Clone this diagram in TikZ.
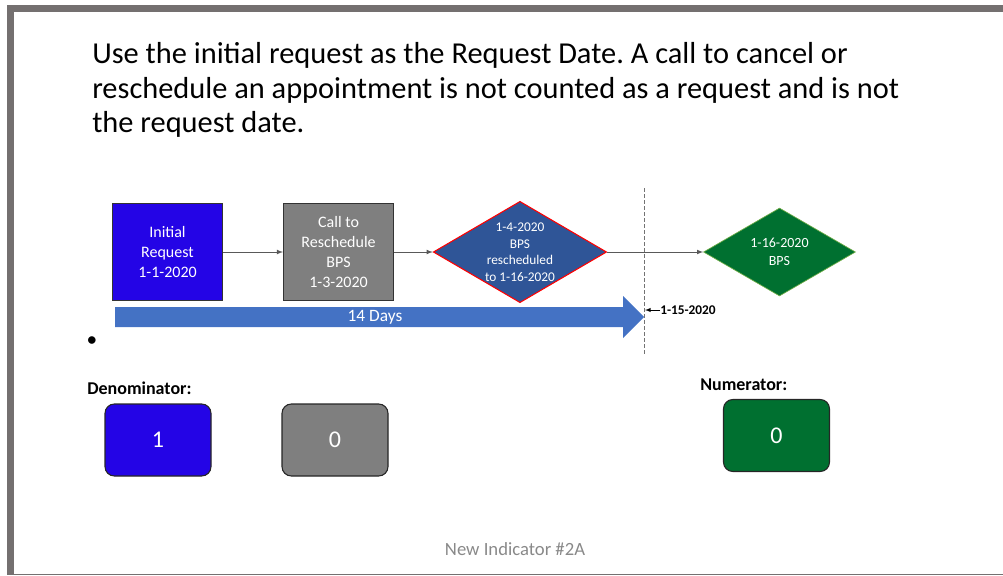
\documentclass[tikz,border=0pt]{standalone}
\usepackage{fontspec}
\setmainfont{Carlito}
\usetikzlibrary{positioning, shapes.geometric}
\frenchspacing

\definecolor{framegray}{RGB}{116,112,112}
\definecolor{reqblue}{RGB}{36,4,230}
\definecolor{callgray}{RGB}{127,127,127}
\definecolor{movedblue}{RGB}{47,85,151}
\definecolor{bpsgreen}{RGB}{0,112,48}
\definecolor{edgegreen}{RGB}{112,173,71}
\definecolor{spanblue}{RGB}{68,114,196}
\definecolor{footgray}{RGB}{137,137,137}

\tikzset{
  stepbox/.style={draw=black!80, line width=0.8pt, text=white, align=center,
    minimum width=82.5pt, minimum height=72.75pt, inner sep=0pt,
    font=\fontsize{12}{15}\selectfont},
  datebox/.style={diamond, aspect=1.7, inner sep=-3pt, text=white, align=center},
  countbox/.style={draw=black!85, line width=0.8pt, rounded corners=7pt,
    minimum width=79.5pt, minimum height=54pt, text=white,
    font=\fontsize{18}{22}\selectfont},
  caption/.style={font=\bfseries\fontsize{13.5}{16}\selectfont, anchor=west, inner sep=0pt},
}

\begin{document}
\begin{tikzpicture}[x=0.75pt, y=-0.75pt, >=latex]
  \useasboundingbox (0,0) rectangle (1003,575);
  % slide frame
  \fill[framegray] (7,5) rectangle (1003,12);
  \fill[framegray] (7,5) rectangle (14,575);
  \draw[framegray, line width=0.75pt] (14,574) -- (1003,574);

  \node[anchor=north west, align=left, inner sep=0pt,
        font=\fontsize{22.8}{26}\selectfont] (title) at (92,42)
    {Use the initial request as the Request Date. A call to cancel or\\
     reschedule an appointment is not counted as a request and is not\\
     the request date.};

  % flow
  \node[stepbox, fill=reqblue] (init) at (167.5,252) {Initial\\Request\\1-1-2020};
  \node[stepbox, fill=callgray, right=45pt of init] (resched) {Call to\\Reschedule\\BPS\\1-3-2020};
  \node[datebox, fill=movedblue, draw=red, line width=0.8pt,
        minimum width=130pt, minimum height=76pt,
        font=\fontsize{10}{12.4}\selectfont, right=29pt of resched] (moved)
    {1-4-2020\\BPS\\rescheduled\\to 1-16-2020};
  \node[datebox, fill=bpsgreen, draw=edgegreen, line width=0.5pt,
        minimum width=114pt, minimum height=66pt,
        font=\fontsize{10.5}{13.3}\selectfont, right=72pt of moved] (newdate)
    {1-16-2020\\BPS};

  \path[->, black!65, line width=0.6pt]
    (init) edge (resched)
    (resched) edge (moved)
    (moved) edge (newdate);

  % 14 day window
  \coordinate (cuttop) at (644,188);
  \coordinate (cutbot) at (644,355);
  \draw[black!55, line width=0.6pt, dash pattern=on 3pt off 1.5pt] (cuttop) -- (cutbot);
  \fill[spanblue] (115,307) -- (623,307) -- (623,296) -- (644,317)
                  -- (623,338) -- (623,327) -- (115,327) -- cycle;
  \node[text=white, font=\fontsize{13}{15}\selectfont] (span) at (375,317) {14 Days};
  \coordinate (mark) at (645,310);
  \node[anchor=west, inner sep=0pt, font=\bfseries\fontsize{10}{12}\selectfont]
    (deadline) at (660,310) {1-15-2020};
  \draw[->, line width=0.5pt] (deadline) -- (mark);

  \node[font=\fontsize{16}{18}\selectfont, inner sep=0pt] (bullet) at (92,342) {\textbullet};

  % counts
  \node[caption] (denom) at (87,388) {Denominator:};
  \node[countbox, fill=reqblue] (denomone) at (158,440) {1};
  \node[countbox, fill=callgray] (denomzero) at (335,440) {0};
  \node[caption] (numer) at (700,385) {Numerator:};
  \node[countbox, fill=bpsgreen] (numerzero) at (776.5,435.5) {0};

  \node[text=footgray, font=\fontsize{14}{16}\selectfont] (footer) at (515,549) {New Indicator \#2A};
\end{tikzpicture}
\end{document}
